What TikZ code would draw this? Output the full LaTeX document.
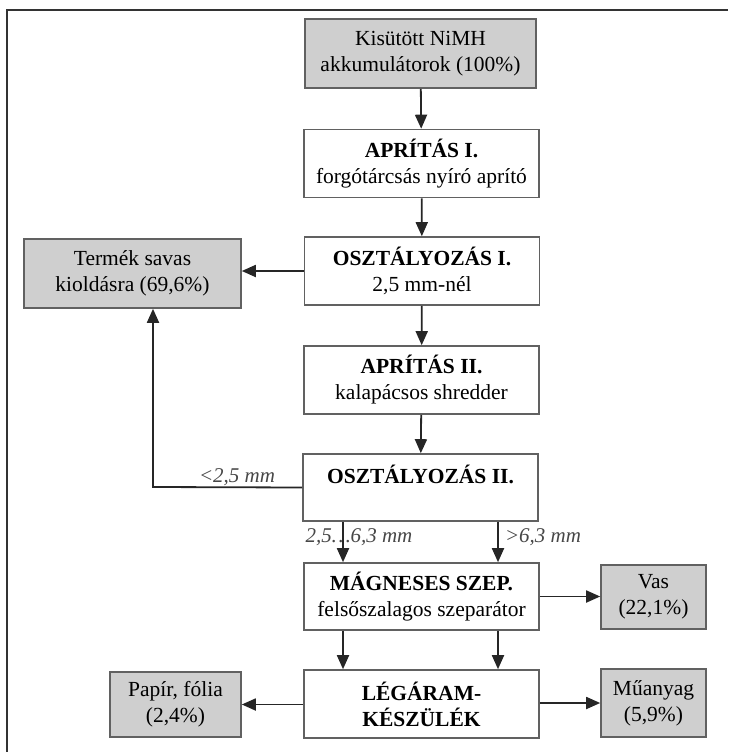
\documentclass[tikz,border=0pt]{standalone}
\usepackage{fontspec}
\setmainfont{Liberation Serif}
\usetikzlibrary{arrows.meta}

\begin{document}
\begin{tikzpicture}[x=1pt, y=-1pt,
        box/.style = {draw=black!62, line width=1.6pt, fill=white, align=center, inner sep=0pt,
                      minimum width=235, minimum height=68, font=\fontsize{21.5}{26}\selectfont},
        grey/.style = {box, fill=black!19},
        flow/.style = {-{Triangle[length=14pt, width=12pt]}, line width=1.8pt, black!85},
        note/.style = {inner sep=0pt, text=black!72, font=\fontsize{21}{24}\selectfont\itshape}]
        \useasboundingbox (0,0) rectangle (728,752);
        \draw[line width=1.8pt, black!80] (7,752) -- (7,10) -- (728,10);

        % main line
        \node[grey, minimum width=231, minimum height=69] (input) at (420.5,53.5) {Kisütött NiMH\\akkumulátorok (100\%)};
        \node[box] (crushA) at (421.5,163.5) {\textbf{APRÍTÁS I.}\\forgótárcsás nyíró aprító};
        \node[box] (classA) at (422,271) {\textbf{OSZTÁLYOZÁS I.}\\2,5 mm-nél};
        \node[box] (crushB) at (421.5,380) {\textbf{APRÍTÁS II.}\\kalapácsos shredder};
        \node[box, minimum height=67] (classB) at (420.5,487.5) {\textbf{OSZTÁLYOZÁS II.}\\~};
        \node[box, minimum height=67] (magnet) at (421.5,596.5) {\textbf{MÁGNESES SZEP.}\\felsőszalagos szeparátor};
        \node[box] (air) at (421.5,704) {\textbf{LÉGÁRAM-}\\\textbf{KÉSZÜLÉK}};

        % products
        \node[grey, minimum width=217, minimum height=69] (leach) at (132.5,273.5) {Termék savas\\kioldásra (69,6\%)};
        \node[grey, minimum width=105, minimum height=64] (iron) at (653.5,597) {Vas\\(22,1\%)};
        \node[grey, minimum width=131, minimum height=65] (paper) at (175.5,704.5) {Papír, fólia\\(2,4\%)};
        \node[grey, minimum width=105, minimum height=68] (plastic) at (653.5,703) {Műanyag\\(5,9\%)};

        % size labels
        \node[note] (fine) at (237,477) {<2,5 mm};
        \node[note] (mid) at (359,537) {2,5…6,3 mm};
        \node[note] (coarse) at (543,537) {>6,3 mm};
        \coordinate (bend) at (153,487);

        \draw[flow] (input) -- (crushA);
        \draw[flow] (crushA) -- (classA);
        \draw[flow] (classA) -- (crushB);
        \draw[flow] (crushB) -- (classB);
        \draw[flow] (classA.west) -- (classA.west -| leach.east);
        \draw[flow] (classB.west) -- (bend) -- (bend |- leach.south);
        \draw[flow] ([xshift=-77.5]classB.south) -- ([xshift=-78.5]magnet.north);
        \draw[flow] ([xshift=77.5]classB.south) -- ([xshift=76.5]magnet.north);
        \draw[flow] (magnet.east) -- (magnet.east -| iron.west);
        \draw[flow] ([xshift=-78.5]magnet.south) -- ([xshift=-78.5]air.north);
        \draw[flow] ([xshift=76.5]magnet.south) -- ([xshift=76.5]air.north);
        \draw[flow] (air.west |- paper) -- (paper.east);
        \draw[flow] (air.east |- plastic) -- (plastic.west);
    \end{tikzpicture}
\end{document}
